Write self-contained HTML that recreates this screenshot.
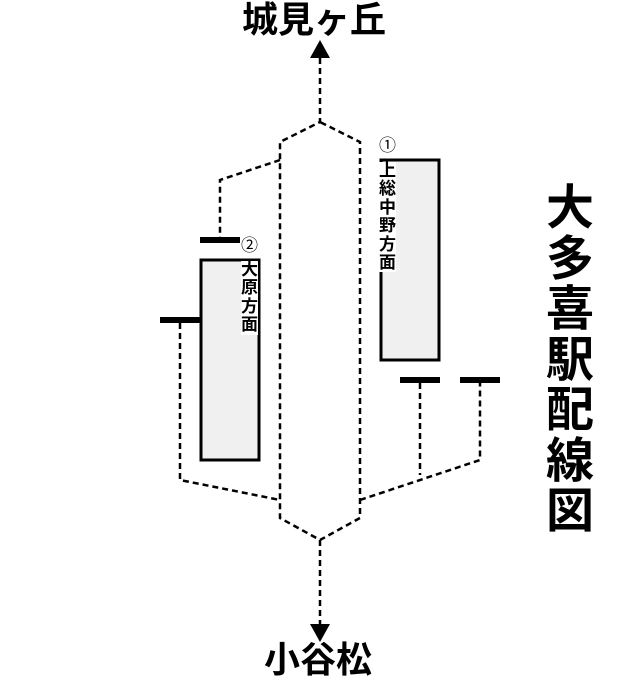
<!DOCTYPE html>
<html><head><meta charset="utf-8"><style>
html,body{margin:0;padding:0;background:#fff;}
body{width:640px;height:680px;position:relative;overflow:hidden;font-family:"Liberation Sans","Noto Sans CJK JP",sans-serif;}
.t{position:absolute;color:#000;white-space:nowrap;font-weight:bold;}
.v{position:absolute;width:1em;text-align:center;word-break:break-all;white-space:normal;background:#fff;}
</style></head><body>
<svg width="640" height="680" style="position:absolute;left:0;top:0">
<g fill="none" stroke="#000" stroke-width="2.5" stroke-dasharray="6,4">
<path d="M320,58 L320,122 L280,142 L280,518 L320,540 L360,518 L360,142 L320,122"/>
<path d="M320,540 L320,624"/>
<path d="M280,160 L220,180 L220,237"/>
<path d="M180,323 L180,480 L280,500"/>
<path d="M360,500 L480,460 L480,383"/>
<path d="M420,383 L420,475"/>
</g>
<polygon points="320,40 310,58 330,58" fill="#000"/>
<polygon points="320,642 310,624 330,624" fill="#000"/>
<rect x="201" y="260" width="58" height="200" fill="#f0f0f0" stroke="#000" stroke-width="3"/>
<rect x="381" y="160" width="58" height="200" fill="#f0f0f0" stroke="#000" stroke-width="3"/>
<rect x="200" y="237" width="40" height="6" fill="#000"/>
<rect x="160" y="317" width="40" height="6" fill="#000"/>
<rect x="400" y="377" width="40" height="6" fill="#000"/>
<rect x="460" y="377" width="40" height="6" fill="#000"/>
</svg>
<div class="t" style="left:242px;top:0px;font-size:36px;line-height:40px;">城見ヶ丘</div>
<div class="t" style="left:264px;top:640px;font-size:36px;line-height:40px;">小谷松</div>
<div class="t v" style="left:546px;top:184px;font-size:48px;line-height:50.5px;background:none;">大多喜駅配線図</div>
<div class="t" style="left:379px;top:137px;font-size:17px;line-height:18px;font-weight:normal;">①</div>
<div class="t v" style="left:379px;top:162px;font-size:17px;line-height:18.4px;">上総中野方面</div>
<div class="t" style="left:241px;top:237px;font-size:17px;line-height:18px;font-weight:normal;">②</div>
<div class="t v" style="left:241px;top:261px;font-size:17px;line-height:18.4px;">大原方面</div>
</body></html>
